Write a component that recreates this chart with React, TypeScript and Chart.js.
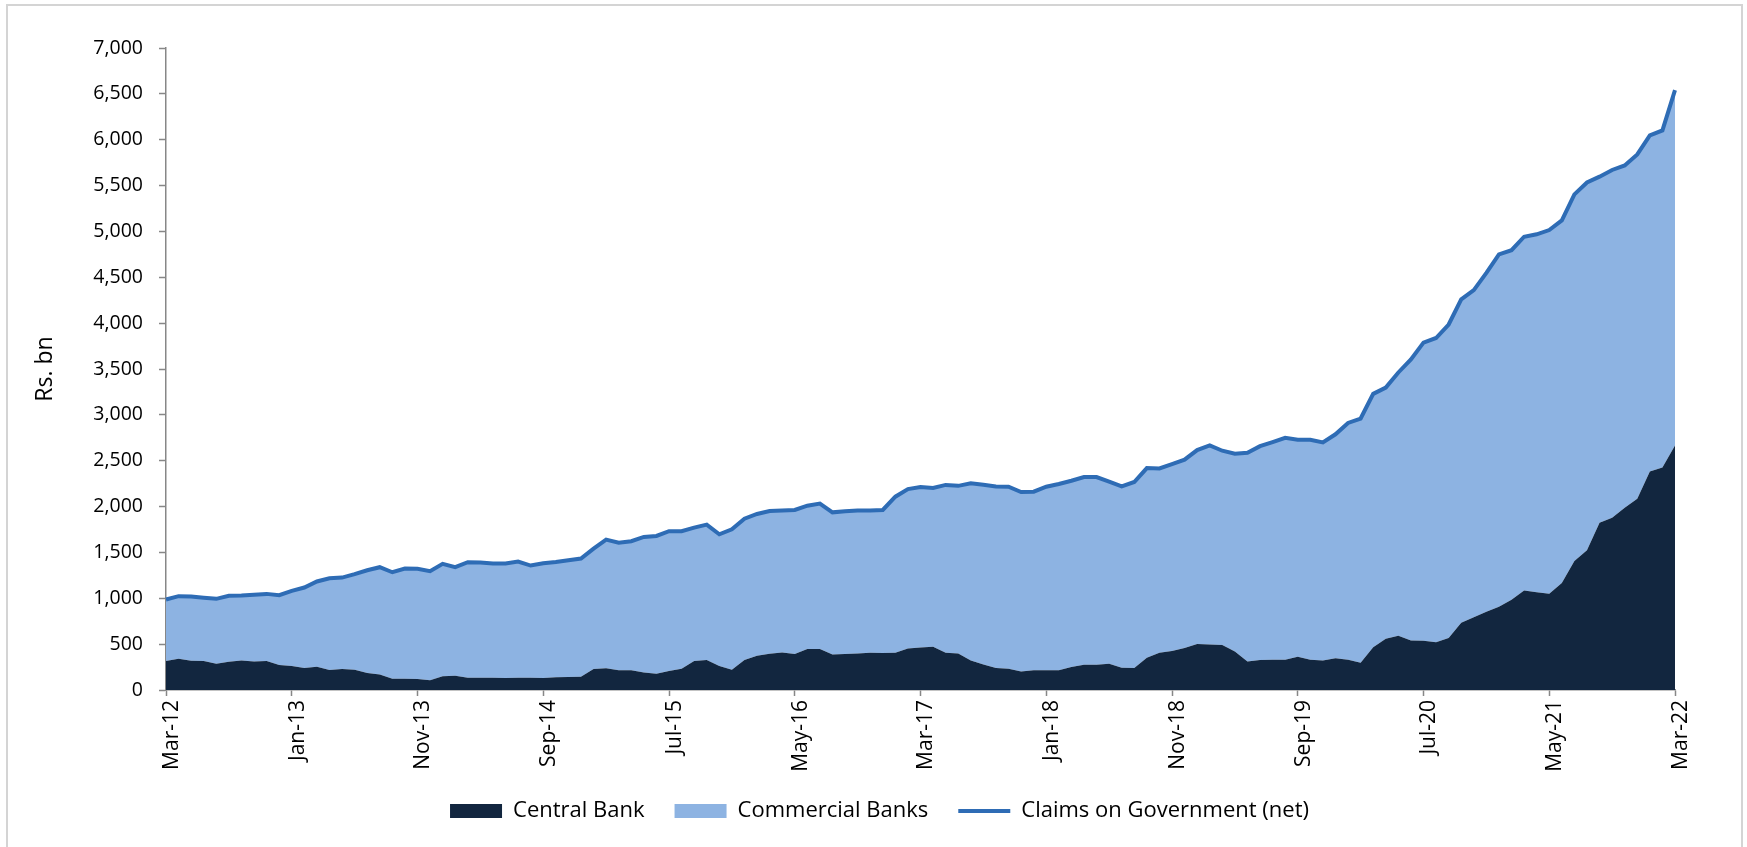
import React, { useEffect, useRef } from 'react';
import { Chart, registerables } from 'chart.js';

Chart.register(...registerables);

const MONTH_NAMES = ['Jan', 'Feb', 'Mar', 'Apr', 'May', 'Jun', 'Jul', 'Aug', 'Sep', 'Oct', 'Nov', 'Dec'];
// Monthly categories, Mar-12 .. Mar-22
const categories: string[] = Array.from({ length: 121 }, (_, i) => {
  const m = (2 + i) % 12;
  const y = 12 + Math.floor((2 + i) / 12);
  return `${MONTH_NAMES[m]}-${y}`;
});

// Rs. bn
const centralBank = [
  316, 341, 319, 316, 287, 308, 323, 312, 316, 272,
  261, 239, 254, 218, 229, 221, 185, 170, 123, 123,
  120, 105, 149, 156, 134, 134, 134, 131, 134, 134,
  131, 140, 141, 145, 229, 236, 214, 214, 192, 178,
  207, 232, 316, 327, 261, 221, 327, 374, 395, 410,
  392, 446, 446, 388, 392, 399, 406, 403, 406, 453,
  464, 472, 405, 397, 323, 279, 239, 232, 203, 214,
  214, 214, 250, 276, 276, 287, 243, 239, 352, 406,
  424, 457, 501, 497, 490, 421, 312, 327, 330, 330,
  363, 330, 323, 346, 330, 298, 467, 559, 591, 540,
  536, 522, 568, 733, 792, 852, 907, 985, 1085, 1067,
  1049, 1168, 1406, 1525, 1823, 1878, 1988, 2084, 2382, 2427,
  2666,
];

const claimsOnGovernment = [
  987, 1023, 1019, 1005, 994, 1027, 1030, 1038, 1048, 1034,
  1081, 1117, 1183, 1219, 1226, 1263, 1306, 1339, 1284, 1324,
  1321, 1295, 1375, 1339, 1393, 1390, 1379, 1379, 1400, 1357,
  1382, 1395, 1415, 1433, 1542, 1640, 1607, 1622, 1669, 1680,
  1731, 1731, 1770, 1803, 1698, 1752, 1868, 1919, 1952, 1956,
  1963, 2010, 2032, 1937, 1948, 1956, 1956, 1963, 2108, 2191,
  2213, 2202, 2236, 2226, 2253, 2238, 2220, 2217, 2159, 2162,
  2217, 2246, 2282, 2322, 2322, 2271, 2220, 2268, 2420, 2416,
  2463, 2511, 2616, 2667, 2609, 2576, 2587, 2659, 2703, 2750,
  2728, 2728, 2699, 2788, 2912, 2960, 3229, 3298, 3462, 3604,
  3788, 3838, 3985, 4259, 4360, 4548, 4749, 4795, 4942, 4969,
  5015, 5120, 5404, 5533, 5597, 5670, 5720, 5840, 6046, 6101,
  6540,
];

// Commercial banks = net claims minus central bank (stacked layer)
const commercialBanks = claimsOnGovernment.map((v, i) => v - centralBank[i]);

const yTicks = { min: 0, max: 7000, step: 500 };

const DARK = '#12263F';
const LIGHT = '#8DB3E2';
const BLUE = '#2E6CB5';
const AXIS = '#878787';
const FONT = "'Open Sans', 'Noto Sans', sans-serif";

const legendShift = {
  id: 'legendShift',
  afterLayout(chart: any) {
    const lg = chart.legend;
    if (lg) {
      lg.left += 38;
      lg.right += 38;
    }
  },
};

export default function App() {
  const ref = useRef<HTMLCanvasElement | null>(null);

  useEffect(() => {
    if (!ref.current) return;
    const chart = new Chart(ref.current, {
      type: 'line',
      data: {
        labels: categories,
        datasets: [
          {
            label: 'Central Bank',
            data: centralBank,
            backgroundColor: DARK,
            borderColor: 'rgba(0,0,0,0)',
            borderWidth: 0,
            fill: 'origin',
            pointRadius: 0,
            tension: 0,
            stack: 'a',
            order: 1,
          },
          {
            label: 'Commercial Banks',
            data: commercialBanks,
            backgroundColor: LIGHT,
            borderColor: 'rgba(0,0,0,0)',
            borderWidth: 0,
            fill: '-1',
            pointRadius: 0,
            tension: 0,
            stack: 'a',
            order: 1,
          },
          {
            label: 'Claims on Government (net)',
            data: claimsOnGovernment,
            borderColor: BLUE,
            backgroundColor: BLUE,
            borderWidth: 4,
            fill: false,
            pointRadius: 0,
            tension: 0,
            stack: 'b',
            order: 0,
          },
        ],
      },
      options: {
        animation: false,
        responsive: false,
        devicePixelRatio: 1,
        events: [],
        layout: { padding: { top: 42, left: 0, right: 66, bottom: 15 } },
        plugins: {
          tooltip: { enabled: false },
          legend: {
            display: true,
            position: 'bottom',
            labels: {
              usePointStyle: true,
              pointStyleWidth: 52,
              boxHeight: 14,
              padding: 30,
              color: '#000',
              font: { family: FONT, size: 22 },
              generateLabels: () => [
                { text: 'Central Bank', fillStyle: DARK, strokeStyle: DARK, lineWidth: 0, pointStyle: 'rect', hidden: false, datasetIndex: 0 },
                { text: 'Commercial Banks', fillStyle: LIGHT, strokeStyle: LIGHT, lineWidth: 0, pointStyle: 'rect', hidden: false, datasetIndex: 1 },
                { text: 'Claims on Government (net)', fillStyle: BLUE, strokeStyle: BLUE, lineWidth: 4, pointStyle: 'line', hidden: false, datasetIndex: 2 },
              ] as any,
            },
          },
        },
        scales: {
          x: {
            type: 'category',
            offset: false,
            grid: { display: true, drawOnChartArea: false, drawTicks: true, tickLength: 6, tickColor: AXIS, tickWidth: 1.5 },
            border: { display: true, color: AXIS, width: 1.5 },
            ticks: {
              autoSkip: false,
              minRotation: 90,
              maxRotation: 90,
              padding: 4,
              labelOffset: 6,
              color: '#000',
              font: { family: FONT, size: 21 },
              callback: (_v: any, idx: number) => (idx % 10 === 0 ? categories[idx] : null),
            },
            afterFit: (scale: any) => {
              scale.height = 80;
            },
          },
          y: {
            stacked: true,
            min: yTicks.min,
            max: yTicks.max,
            grid: { display: true, drawOnChartArea: false, drawTicks: true, tickLength: 7, tickColor: AXIS, tickWidth: 1.5 },
            border: { display: true, color: AXIS, width: 1.5 },
            ticks: {
              stepSize: yTicks.step,
              padding: 16,
              color: '#000',
              font: { family: FONT, size: 19.5 },
              callback: (v: any) => Number(v).toLocaleString('en-US'),
            },
            title: {
              display: true,
              text: 'Rs. bn',
              color: '#000',
              font: { family: FONT, size: 23 },
              padding: { top: 24, bottom: 0 },
            },
            afterFit: (scale: any) => {
              scale.width = 158;
            },
          },
        },
      },
      plugins: [legendShift],
    } as any);
    return () => chart.destroy();
  }, []);

  return (
    <div
      style={{
        position: 'fixed',
        left: 6,
        top: 4,
        width: 1733,
        height: 841,
        border: '2px solid #d4d4d4',
        background: '#fff',
      }}
    >
      <canvas ref={ref} width={1733} height={841} style={{ display: 'block' }} />
    </div>
  );
}
